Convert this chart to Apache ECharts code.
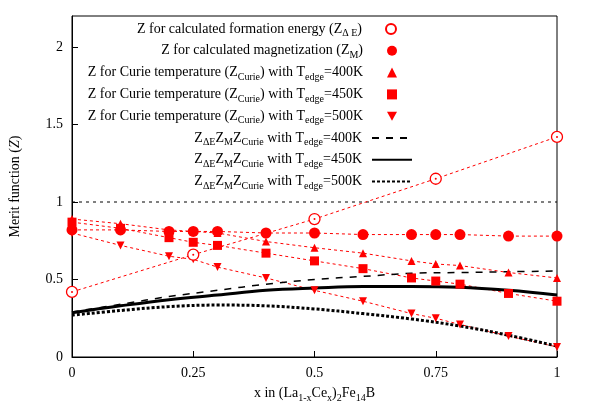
<!DOCTYPE html>
<html>
<head>
<meta charset="utf-8">
<script src="https://cdn.jsdelivr.net/npm/echarts@6/dist/echarts.min.js"></script>
<style>
html, body { margin: 0; padding: 0; background: #fff; }
#main { width: 600px; height: 419px; }
</style>
</head>
<body>
<div id="main"></div>
<script>
// formation energy merit (only 5 compositions)
var xE = [0, 0.25, 0.5, 0.75, 1];
var zE = [0.42, 0.66, 0.89, 1.15, 1.42];

// magnetization and Curie temperature merits
var xAll = [0, 0.1, 0.2, 0.25, 0.3, 0.4, 0.5, 0.6, 0.7, 0.75, 0.8, 0.9, 1];
var zM = [0.82, 0.82, 0.81, 0.81, 0.81, 0.80, 0.80, 0.79, 0.79, 0.79, 0.79, 0.78, 0.78];
var zC400 = [0.89, 0.86, 0.82, 0.81, 0.80, 0.745, 0.705, 0.67, 0.62, 0.60, 0.59, 0.545, 0.51];
var zC450 = [0.87, 0.83, 0.77, 0.74, 0.72, 0.67, 0.62, 0.57, 0.51, 0.49, 0.47, 0.41, 0.36];
var zC500 = [0.80, 0.72, 0.65, 0.63, 0.58, 0.51, 0.43, 0.36, 0.28, 0.25, 0.21, 0.135, 0.065];

// product curves
var xFit = [0, 0.1, 0.2, 0.3, 0.4, 0.5, 0.6, 0.7, 0.8, 0.9, 1];
var fit400 = [0.29, 0.34, 0.39, 0.43, 0.47, 0.50, 0.52, 0.54, 0.545, 0.55, 0.555];
var fit450 = [0.285, 0.33, 0.37, 0.40, 0.43, 0.445, 0.455, 0.455, 0.45, 0.43, 0.40];
var fit500 = [0.27, 0.30, 0.325, 0.335, 0.33, 0.31, 0.28, 0.245, 0.20, 0.14, 0.07];

var refX = [0, 1];
var refY = [1, 1];

var yTicks = [0, 0.5, 1, 1.5, 2];

var legendNames = ['dE', 'M', 'C400', 'C450', 'C500', 'P400', 'P450', 'P500'];
var legendLabels = [
	'Z for calculated formation energy (Z{s|Δ E})',
	'Z for calculated magnetization (Z{s|M})',
	'Z for Curie temperature (Z{s|Curie}) with T{s|edge}=400K',
	'Z for Curie temperature (Z{s|Curie}) with T{s|edge}=450K',
	'Z for Curie temperature (Z{s|Curie}) with T{s|edge}=500K',
	'Z{s|ΔE}Z{s|M}Z{s|Curie} with T{s|edge}=400K',
	'Z{s|ΔE}Z{s|M}Z{s|Curie} with T{s|edge}=450K',
	'Z{s|ΔE}Z{s|M}Z{s|Curie} with T{s|edge}=500K'
];

function pairs(xs, ys) {
	var out = [];
	for (var i = 0; i < xs.length; i++) {
		out.push([xs[i], ys[i]]);
	}
	return out;
}

var FONT = 'Liberation Serif';
var RED = '#ff0000';
var subRich = {
	s : { fontFamily : FONT, fontSize : 10, color : '#000', padding : [ 9, 0, 0, 0 ] }
};

var legends = [];
for (var i = 0; i < legendNames.length; i++) {
	var isMark = i < 5;
	var lg = {
		data : [ legendNames[i] ],
		top : 22 + i * 21.8,
		right : isMark ? 203 : 187,
		align : 'right',
		padding : 0,
		itemWidth : isMark ? 10 : 40,
		itemHeight : isMark ? 10 : 12,
		symbolKeepAspect : true,
		formatter : legendLabels[i],
		textStyle : {
			fontFamily : FONT,
			fontSize : 14,
			color : '#000',
			padding : [ 0, isMark ? 19 : 5, 0, 0 ],
			rich : subRich
		}
	};
	if (!isMark) {
		lg.itemStyle = { color : 'rgba(0,0,0,0)', borderWidth : 0 };
	}
	legends.push(lg);
}

function redLink(ys, xs) {
	return {
		type : 'line',
		symbol : 'none',
		silent : true,
		data : pairs(xs, ys),
		lineStyle : { color : RED, width : 1, type : [ 3, 3 ] },
		z : 2
	};
}

function blackCurve(name, ys, width, dash) {
	return {
		name : name,
		type : 'line',
		symbol : 'none',
		smooth : 0.4,
		data : pairs(xFit, ys),
		lineStyle : { color : '#000', width : width, type : dash },
		itemStyle : { color : '#000' },
		z : 3
	};
}

function points(name, xs, ys, symbol, size, style) {
	style.opacity = 1;
	return {
		name : name,
		type : 'scatter',
		symbol : symbol,
		symbolSize : size,
		data : pairs(xs, ys),
		itemStyle : style,
		z : 4
	};
}

var dots = points(null, xE, zE, 'circle', 2, { color : RED });
dots.z = 5;
dots.silent = true;

var option = {
	animation : false,
	backgroundColor : '#fff',
	legend : legends,
	grid : {
		left : 71, right : 43, top : 16, bottom : 62,
		show : true, borderColor : '#000', borderWidth : 1
	},
	xAxis : {
		type : 'value',
		min : 0, max : 1, interval : 0.25,
		name : 'x in (La{s|1-x}Ce{s|x}){s|2}Fe{s|14}B',
		nameLocation : 'middle',
		nameGap : 27,
		nameTextStyle : { fontFamily : FONT, fontSize : 14, color : '#000', rich : subRich },
		axisLine : { lineStyle : { color : '#000', width : 1 } },
		axisTick : { inside : true, length : 6, lineStyle : { color : '#000' } },
		axisLabel : { fontFamily : FONT, fontSize : 14, color : '#000', margin : 9 },
		splitLine : { show : false }
	},
	yAxis : {
		type : 'value',
		min : 0, max : 2.2,
		name : 'Merit function ({i|Z})',
		nameLocation : 'middle',
		nameRotate : 90,
		nameGap : 50,
		nameTextStyle : {
			fontFamily : FONT, fontSize : 14, color : '#000',
			rich : { i : { fontFamily : FONT, fontSize : 14, fontStyle : 'italic', color : '#000' } }
		},
		axisLine : { lineStyle : { color : '#000', width : 1 } },
		axisTick : { inside : true, length : 6, customValues : yTicks, lineStyle : { color : '#000' } },
		axisLabel : { fontFamily : FONT, fontSize : 14, color : '#000', margin : 9, customValues : yTicks },
		splitLine : { show : false }
	},
	series : [
		{
			type : 'line',
			symbol : 'none',
			silent : true,
			data : pairs(refX, refY),
			lineStyle : { color : '#000', width : 1, type : [ 3, 4 ] },
			z : 1
		},
		redLink(zE, xE),
		redLink(zM, xAll),
		redLink(zC400, xAll),
		redLink(zC450, xAll),
		redLink(zC500, xAll),
		blackCurve('P400', fit400, 1.5, [ 7, 7 ]),
		blackCurve('P450', fit450, 3, 'solid'),
		blackCurve('P500', fit500, 3, [ 3, 2 ]),
		points('C400', xAll, zC400, 'triangle', 8, { color : RED }),
		points('C450', xAll, zC450, 'rect', 9, { color : RED }),
		points('C500', xAll, zC500, 'path://M0,0 L10,0 L5,9 Z', 8, { color : RED }),
		points('M', xAll, zM, 'circle', 11, { color : RED }),
		points('dE', xE, zE, 'circle', 11, { color : '#fff', borderColor : RED, borderWidth : 1.3 }),
		dots
	]
};

var myChart = echarts.init(document.getElementById('main'));
myChart.setOption(option);
</script>
</body>
</html>
